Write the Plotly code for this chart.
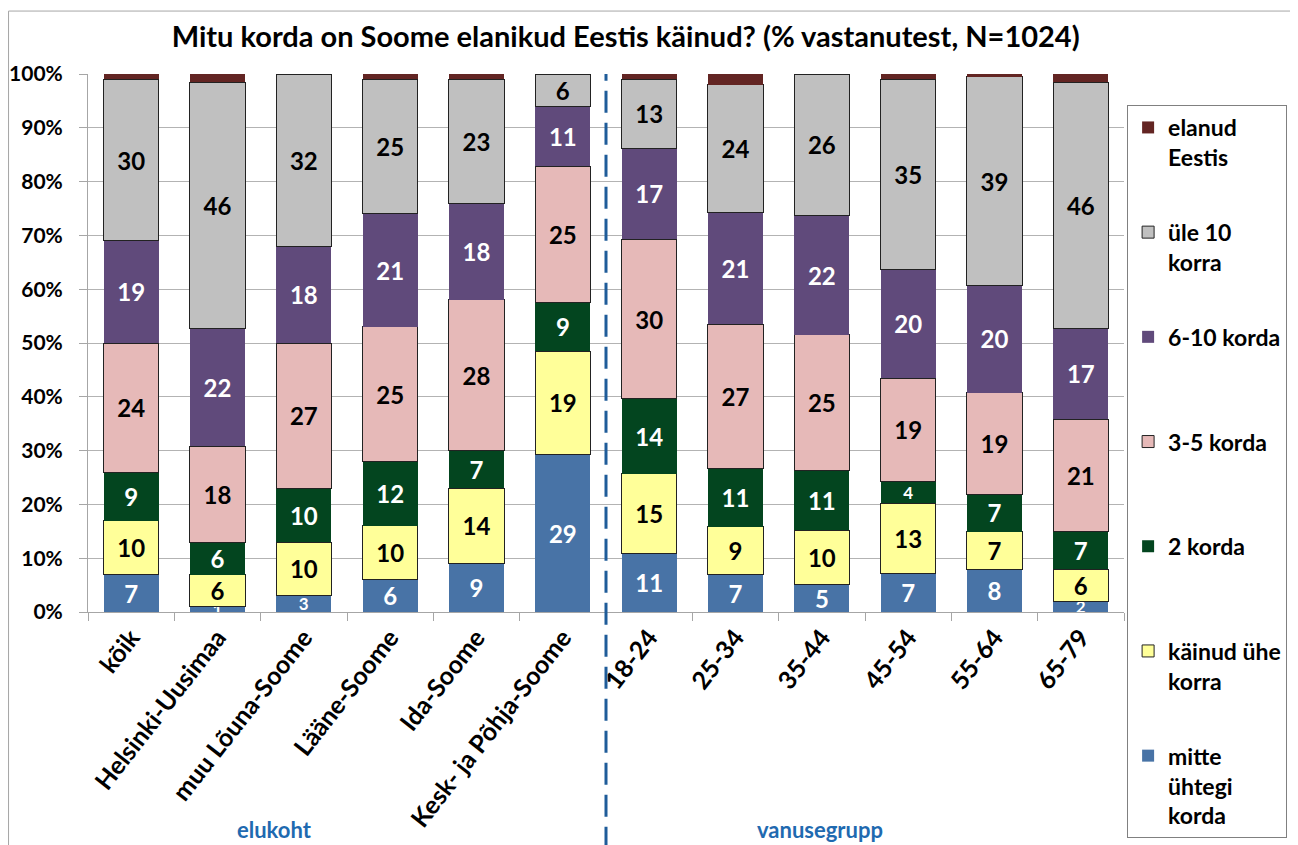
import plotly.graph_objects as go

categories = [
    "kõik", "Helsinki-Uusimaa", "muu Lõuna-Soome", "Lääne-Soome", "Ida-Soome",
    "Kesk- ja Põhja-Soome", "18-24", "25-34", "35-44", "45-54", "55-64", "65-79",
]

mitte_uhtegi = [7, 1, 3, 6, 9, 29, 11, 7, 5, 7, 8, 2]
uhe_korra = [10, 6, 10, 10, 14, 19, 15, 9, 10, 13, 7, 6]
kaks_korda = [9, 6, 10, 12, 7, 9, 14, 11, 11, 4, 7, 7]
kolm_viis = [24, 18, 27, 25, 28, 25, 30, 27, 25, 19, 19, 21]
kuus_kumme = [19, 22, 18, 21, 18, 11, 17, 21, 22, 20, 20, 17]
ule_10 = [30, 46, 32, 25, 23, 6, 13, 24, 26, 35, 39, 46]
elanud_eestis = [1, 1.5, 0, 1, 1, 0, 1, 2, 0, 1, 0.5, 1.5]

FONT = "Lato"

series = [
    ("mitte<br>ühtegi<br>korda", mitte_uhtegi, "#4873A6", "white", None, True),
    ("käinud ühe<br>korra<br> ", uhe_korra, "#FFFF99", "black", "#222222", True),
    ("2 korda<br> <br> ", kaks_korda, "#03451F", "white", None, True),
    ("3-5 korda<br> <br> ", kolm_viis, "#E6B9B8", "black", "#222222", True),
    ("6-10 korda<br> <br> ", kuus_kumme, "#604A7B", "white", None, True),
    ("üle 10<br>korra<br> ", ule_10, "#C0C0C0", "black", "#222222", True),
    ("elanud<br>Eestis<br> ", elanud_eestis, "#632523", "white", None, False),
]

fig = go.Figure()
for i, (name, vals, color, tcolor, lcolor, labelled) in enumerate(series):
    texts = [str(v) if labelled else "" for v in vals]
    sizes = [17 if v <= 4 else 24 for v in vals]
    fig.add_bar(
        x=categories,
        y=vals,
        name=name,
        legendgroup=f"g{i}",
        legendrank=len(series) - i,
        marker=dict(color=color, line=dict(color=lcolor or color, width=1 if lcolor else 0)),
        text=texts,
        textposition="inside",
        insidetextanchor="middle",
        constraintext="none",
        textangle=0,
        textfont=dict(color=tcolor, size=sizes, family=FONT, weight="bold"),
        cliponaxis=True,
    )

# divider between regions and age groups
fig.add_shape(
    type="line", xref="x", yref="paper", x0=5.5, x1=5.5, y0=-0.44, y1=1,
    line=dict(color="#1F5C99", width=3, dash="22px,10px"),
)
# outer chart border
fig.add_shape(
    type="rect", xref="paper", yref="paper", x0=-0.0767, x1=1.162, y0=-0.5, y1=1.117,
    line=dict(color="#A6A6A6", width=1),
)

for label, xpos in [("elukoht", 0.1805), ("vanusegrupp", 0.7066)]:
    fig.add_annotation(
        text=label, x=xpos, y=-0.405, xref="paper", yref="paper", showarrow=False,
        xanchor="center", yanchor="middle",
        font=dict(family=FONT, size=22, color="#1F6AB0", weight="bold"),
    )

# the page body adds 8px on the top and left, so the figure is 8px smaller
fig.update_layout(
    width=1290,
    height=837,
    barmode="stack",
    barnorm="percent",
    bargap=0.36,
    plot_bgcolor="white",
    paper_bgcolor="white",
    margin=dict(l=80, r=174, t=66, b=233, autoexpand=False),
    font=dict(family=FONT, size=20, color="black", weight="bold"),
    title=dict(
        text="Mitu korda on Soome elanikud Eestis käinud? (% vastanutest, N=1024)",
        x=0.519, xref="paper", xanchor="center", y=0.9653, yanchor="middle",
        font=dict(family=FONT, size=29, color="black", weight="bold"),
    ),
    legend=dict(
        x=1.003, y=0.9424, xanchor="left", yanchor="top",
        traceorder="grouped", tracegroupgap=12, valign="top",
        bordercolor="#808080", borderwidth=1, maxheight=900,
        font=dict(family=FONT, size=23, color="black", weight="bold"),
    ),
    showlegend=True,
)
fig.update_xaxes(
    tickangle=-52, tickfont=dict(family=FONT, size=25, weight="bold"),
    ticks="outside", tickson="boundaries", ticklen=8, tickcolor="#A6A6A6",
    showline=True, linecolor="#A6A6A6", showgrid=False,
)
fig.update_yaxes(
    range=[0, 100], dtick=10, ticksuffix="%",
    tickfont=dict(family=FONT, size=21, weight="bold"),
    ticks="outside", ticklen=8, tickcolor="#A6A6A6", ticklabelstandoff=12,
    showline=True, linecolor="#A6A6A6", gridcolor="#B3B3B3", zeroline=False,
)

fig.write_html("out.html")
